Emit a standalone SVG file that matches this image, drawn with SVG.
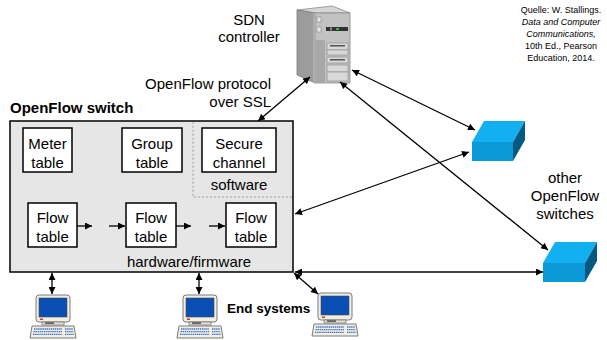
<svg xmlns="http://www.w3.org/2000/svg" width="607" height="340" viewBox="0 0 607 340">
  <style>
    text { font-family: "Liberation Sans", Arial, sans-serif; fill: #000; }
    .lbl { font-size: 15px; }
    .mid { text-anchor: middle; }
    .bold { font-weight: bold; }
    .src { font-size: 9px; text-anchor: middle; }
    .it { font-style: italic; }
    .box { fill: #fff; stroke: #000; stroke-width: 1.5; }
    .link { stroke: #000; stroke-width: 1.3; fill: none; }
    .both { marker-start: url(#head); marker-end: url(#head); }
    .one { marker-end: url(#head); }
  </style>
  <defs>
    <marker id="head" viewBox="0 0 10 10" refX="10" refY="5" markerWidth="8" markerHeight="7" markerUnits="userSpaceOnUse" orient="auto-start-reverse">
      <path d="M0,0 L10,5 L0,10 z" fill="#000"/>
    </marker>
    <!-- desktop computer, origin at the monitor's top-left corner -->
    <g id="pc">
      <rect x="0" y="0" width="34" height="27" rx="3" fill="#f1eee4" stroke="#7a7a7a" stroke-width="1"/>
      <rect x="3" y="3" width="28" height="19" fill="#0a4fb4" stroke="#4a4a4a" stroke-width="0.6"/>
      <rect x="4" y="23.5" width="3" height="1.5" fill="#e03020"/>
      <rect x="6" y="27" width="22" height="3" fill="#e4e0d4" stroke="#7a7a7a" stroke-width="0.8"/>
      <rect x="9" y="27.5" width="9" height="1.2" fill="#333"/>
      <polygon points="-4,31 38,31 40,43 -6,43" fill="#f1eee4" stroke="#7a7a7a" stroke-width="1"/>
      <g stroke="#3a6fc8" stroke-width="1.3" stroke-dasharray="1.4 0.7">
        <line x1="-2" y1="34" x2="26" y2="34"/>
        <line x1="-2.5" y1="36.7" x2="26" y2="36.7"/>
        <line x1="-3" y1="39.4" x2="26" y2="39.4"/>
        <line x1="29" y1="34" x2="37" y2="34"/>
        <line x1="29" y1="36.7" x2="37.5" y2="36.7"/>
        <line x1="29" y1="39.4" x2="38" y2="39.4"/>
      </g>
    </g>
  </defs>

  <!-- source note -->
  <g id="source">
    <text class="src" x="561" y="13">Quelle: W. Stallings.</text>
    <text class="src it" x="561" y="25">Data and Computer</text>
    <text class="src it" x="561" y="37">Communications,</text>
    <text class="src" x="561" y="49">10th Ed., Pearson</text>
    <text class="src" x="561" y="61">Education, 2014.</text>
  </g>

  <!-- SDN controller tower -->
  <g id="controller">
    <polygon points="297,10 332,6 350,13 315,13" fill="#d6d6d6" stroke="#8a8a8a" stroke-width="0.8"/>
    <polygon points="297,10 315,13 315,83 297,75" fill="#9c9c9c" stroke="#7a7a7a" stroke-width="0.8"/>
    <rect x="313.5" y="13" width="2" height="70" fill="#c4c4c4"/>
    <rect x="315" y="13" width="35" height="70" fill="#c2c2c2" stroke="#8a8a8a" stroke-width="0.8"/>
    <rect x="315" y="40" width="10" height="43" fill="#a8a8a8"/>
    <rect x="317" y="17" width="4" height="5" fill="#e6e6e6" stroke="#777" stroke-width="0.5"/>
    <rect x="317" y="27" width="4" height="5" fill="#e6e6e6" stroke="#777" stroke-width="0.5"/>
    <rect x="326" y="27" width="22" height="4" fill="#333"/>
    <rect x="330" y="27.5" width="2" height="3" fill="#888"/>
    <rect x="336" y="28" width="3" height="2" fill="#2fbf3f"/>
    <g fill="#d8d8d8" stroke="#888" stroke-width="0.6">
      <rect x="327" y="43" width="21" height="7"/>
      <rect x="327" y="50" width="21" height="5"/>
      <rect x="327" y="57" width="21" height="6"/>
      <rect x="327" y="65" width="21" height="7"/>
      <rect x="327" y="72" width="21" height="9"/>
    </g>
    <rect x="330" y="45" width="15" height="1.5" fill="#555"/>
    <rect x="330" y="59" width="15" height="1.5" fill="#555"/>
    <text class="lbl mid" x="249" y="25">SDN</text>
    <text class="lbl mid" x="249" y="42">controller</text>
  </g>

  <text class="lbl" x="271" y="89" text-anchor="end">OpenFlow protocol</text>
  <text class="lbl" x="271" y="107" text-anchor="end">over SSL</text>

  <!-- OpenFlow switch -->
  <g id="switch">
    <text class="lbl bold" x="10" y="113">OpenFlow switch</text>
    <rect x="10" y="121" width="283" height="151" fill="#e6e6e6" stroke="#000" stroke-width="1.5"/>
    <polyline points="193,121.8 193,197 292.2,197" fill="none" stroke="#9a9a9a" stroke-width="1" stroke-dasharray="2 2"/>
    <text class="lbl mid" x="239" y="190">software</text>
    <text class="lbl mid" x="189" y="267">hardware/firmware</text>
  </g>
  <g id="meter">
    <rect class="box" x="23" y="128" width="49" height="44"/>
    <text class="lbl mid" x="47.5" y="149">Meter</text>
    <text class="lbl mid" x="47.5" y="168">table</text>
  </g>
  <g id="group">
    <rect class="box" x="122" y="128" width="60" height="44"/>
    <text class="lbl mid" x="152" y="149">Group</text>
    <text class="lbl mid" x="152" y="168">table</text>
  </g>
  <g id="secure">
    <rect class="box" x="202" y="128" width="74" height="44"/>
    <text class="lbl mid" x="239" y="149">Secure</text>
    <text class="lbl mid" x="239" y="168">channel</text>
  </g>
  <g id="flow1">
    <rect class="box" x="28" y="203" width="49" height="44"/>
    <text class="lbl mid" x="52.5" y="223">Flow</text>
    <text class="lbl mid" x="52.5" y="242">table</text>
  </g>
  <g id="flow2">
    <rect class="box" x="126" y="203" width="50" height="44"/>
    <text class="lbl mid" x="151" y="223">Flow</text>
    <text class="lbl mid" x="151" y="242">table</text>
  </g>
  <g id="flow3">
    <rect class="box" x="226" y="203" width="50" height="44"/>
    <text class="lbl mid" x="251" y="223">Flow</text>
    <text class="lbl mid" x="251" y="242">table</text>
  </g>

  <!-- other OpenFlow switches -->
  <g id="ofs1">
    <polygon points="472,142 484,121 525,121 513,142" fill="#12b0f0"/>
    <polygon points="513,142 525,121 525,140 513,161" fill="#055a82"/>
    <rect x="472" y="142" width="41" height="19" fill="#0a98d6"/>
  </g>
  <g id="ofs2">
    <polygon points="543,263 555,242 597,242 585,263" fill="#12b0f0"/>
    <polygon points="585,263 597,242 597,261 585,282" fill="#055a82"/>
    <rect x="543" y="263" width="42" height="19" fill="#0a98d6"/>
  </g>
  <text class="lbl mid" x="565" y="183">other</text>
  <text class="lbl mid" x="565" y="201">OpenFlow</text>
  <text class="lbl mid" x="565" y="219">switches</text>

  <!-- end systems -->
  <use id="pc1" href="#pc" x="36" y="295"/>
  <use id="pc2" href="#pc" x="183" y="295"/>
  <use id="pc3" href="#pc" x="318" y="293"/>
  <text class="bold" x="227" y="313" font-size="13.5">End systems</text>

  <!-- connectors -->
  <g id="connectors">
    <line class="link one" x1="77" y1="226" x2="92" y2="226"/>
    <line class="link one" x1="109" y1="226" x2="125" y2="226"/>
    <line class="link one" x1="176" y1="226" x2="191" y2="226"/>
    <line class="link one" x1="209" y1="226" x2="225" y2="226"/>
    <line class="link both" x1="258" y1="121" x2="310" y2="77"/>
    <line class="link both" x1="352" y1="70" x2="475" y2="130"/>
    <line class="link both" x1="340" y1="82" x2="548" y2="250"/>
    <line class="link both" x1="295" y1="214" x2="469" y2="152"/>
    <line class="link both" x1="295" y1="272" x2="543" y2="272"/>
    <line class="link both" x1="294" y1="273" x2="318" y2="294"/>
    <line class="link both" x1="52" y1="273" x2="52" y2="294"/>
    <line class="link both" x1="199" y1="273" x2="199" y2="294"/>
  </g>
</svg>
